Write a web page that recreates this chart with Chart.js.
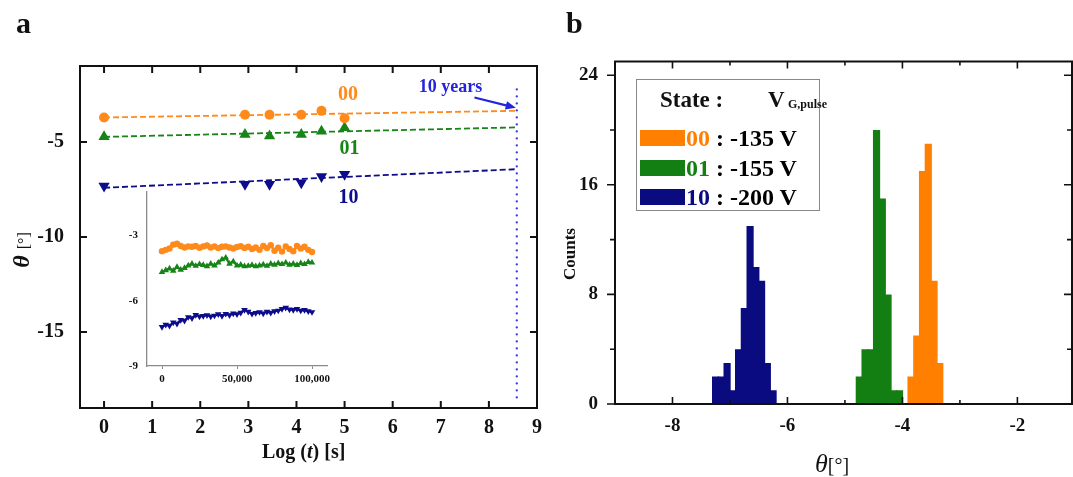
<!DOCTYPE html>
<html>
<head>
<meta charset="utf-8">
<script src="https://cdn.jsdelivr.net/npm/chart.js@4.4.1/dist/chart.umd.min.js"></script>
<style>
body { margin: 0; background: #fff; font-family: 'Liberation Serif', serif; }
#wrap { position: relative; width: 1073px; height: 477px; overflow: hidden; background: #fff; }
canvas { position: absolute; }
.t { position: absolute; font-weight: bold; white-space: nowrap; line-height: 1; color: #111; }
.rot { transform: translate(-50%, -50%) rotate(-90deg); }
.sw { position: absolute; left: 3px; width: 45px; height: 16px; }
.row { position: absolute; left: 49px; font-size: 24px; font-weight: bold; white-space: nowrap; line-height: 1; }
</style>
</head>
<body>
<div id="wrap">
  <canvas id="chartA" width="545" height="477" style="left:0;top:0;width:545px;height:477px"></canvas>
  <canvas id="inset" width="240" height="210" style="left:100px;top:180px;width:240px;height:210px"></canvas>
  <canvas id="chartB" width="528" height="477" style="left:545px;top:0;width:528px;height:477px"></canvas>

  <div class="t" style="left:16px;top:8px;font-size:30px">a</div>
  <div class="t" style="left:566px;top:8px;font-size:30px">b</div>

  <div class="t" style="left:262px;top:441px;font-size:20px">Log (<i>t</i>) [s]</div>
  <div class="t rot" style="left:21px;top:250px;font-size:24px"><i>θ</i> <span style="font-size:16px;font-weight:normal">[°]</span></div>

  <div class="t rot" style="left:569px;top:254px;font-size:17px">Counts</div>
  <div class="t" style="left:815px;top:451px;font-size:26px;font-weight:normal"><i>θ</i><span style="font-size:20px">[°]</span></div>

  <div id="legend" style="position:absolute;left:636px;top:79px;width:182px;height:130px;border:1px solid #888;background:#fff">
    <div class="t" style="left:23px;top:8px;font-size:23px">State :</div>
    <div class="t" style="left:131px;top:8px;font-size:23px">V</div>
    <div class="t" style="left:151px;top:18px;font-size:12px">G,pulse</div>
    <div class="sw" style="top:50px;background:#ff8000"></div>
    <div class="row" style="top:46px"><span style="color:#ff8000">00</span> : -135 V</div>
    <div class="sw" style="top:80px;background:#137f13"></div>
    <div class="row" style="top:76px"><span style="color:#137f13">01</span> : -155 V</div>
    <div class="sw" style="top:109px;background:#0b0b80"></div>
    <div class="row" style="top:105px"><span style="color:#0b0b80">10</span> : -200 V</div>
  </div>
</div>

<script>
// ---- panel a: retention vs log time ----
const logT = [0, 2.93, 3.44, 4.1, 4.52, 5.0];
const theta00 = [-3.71, -3.57, -3.57, -3.57, -3.36, -3.75];
const theta01 = [-4.73, -4.61, -4.68, -4.61, -4.43, -4.25];
const theta10 = [-7.32, -7.23, -7.23, -7.14, -6.82, -6.70];

const fitX = [0, 8.58];
const fit00 = [-3.71, -3.36];
const fit01 = [-4.73, -4.23];
const fit10 = [-7.41, -6.43];

const tenYears = 8.58;
const tenYearsSpan = [-2.23, -18.6];

const xTicksA = [0, 1, 2, 3, 4, 5, 6, 7, 8, 9];
const yTicksA = [-15, -10, -5];

// ---- inset: linear time ----
const insetT = [0, 2500, 5000, 7500, 10000, 12500, 15000, 17500, 20000, 22500,
  25000, 27500, 30000, 32500, 35000, 37500, 40000, 42500, 45000, 47500,
  50000, 52500, 55000, 57500, 60000, 62500, 65000, 67500, 70000, 72500,
  75000, 77500, 80000, 82500, 85000, 87500, 90000, 92500, 95000, 97500, 100000];
const inset00 = [-3.72, -3.66, -3.6, -3.42, -3.38, -3.48, -3.55, -3.5, -3.52, -3.48,
  -3.56, -3.5, -3.46, -3.55, -3.5, -3.58, -3.52, -3.5, -3.55, -3.6,
  -3.53, -3.49, -3.57, -3.52, -3.62, -3.55, -3.66, -3.48, -3.58, -3.45,
  -3.7, -3.56, -3.74, -3.5, -3.62, -3.72, -3.48, -3.6, -3.52, -3.66, -3.76];
const inset01 = [-4.68, -4.6, -4.52, -4.62, -4.45, -4.58, -4.5, -4.38, -4.3, -4.4,
  -4.32, -4.36, -4.42, -4.3, -4.38, -4.25, -4.1, -4.02, -4.3, -4.2,
  -4.38, -4.35, -4.42, -4.4, -4.36, -4.42, -4.38, -4.34, -4.4, -4.3,
  -4.35, -4.28, -4.32, -4.25, -4.35, -4.3, -4.36, -4.28, -4.32, -4.22, -4.25];
const inset10 = [-7.2, -7.1, -7.15, -7.0, -7.05, -6.88, -6.92, -6.75, -6.8, -6.65,
  -6.72, -6.7, -6.66, -6.72, -6.68, -6.62, -6.7, -6.6, -6.66, -6.58,
  -6.62, -6.55, -6.42, -6.5, -6.6, -6.56, -6.52, -6.58, -6.5, -6.55,
  -6.48, -6.45, -6.38, -6.32, -6.4, -6.42, -6.38, -6.45, -6.42, -6.48, -6.52];
const xTicksInset = [0, 50000, 100000];
const yTicksInset = [-9, -6, -3];

// ---- panel b: histograms ----
const bins00 = [-3.85, -3.75, -3.65, -3.55, -3.45, -3.35];
const counts00 = [2, 5, 17, 19, 9, 3];
const bins01 = [-4.75, -4.65, -4.55, -4.45, -4.35, -4.25, -4.15, -4.05];
const counts01 = [2, 4, 4, 20, 15, 8, 1, 1];
const bins10 = [-7.25, -7.15, -7.05, -6.95, -6.85, -6.75, -6.65, -6.55, -6.45, -6.35, -6.25];
const counts10 = [2, 2, 3, 1, 4, 7, 13, 10, 9, 3, 1];
const xTicksB = [-8, -7, -6, -5, -4, -3, -2];
const yTicksB = [0, 4, 8, 12, 16, 20, 24];

const ORANGE = '#ff8a1c', GREEN = '#178417', NAVY = '#0c0c8c';
const H_ORANGE = '#ff8000', H_GREEN = '#137f13', H_NAVY = '#0b0b80';
const BLUE = '#2424dc';
const SERIF = "'Liberation Serif', 'Times New Roman', serif";

Chart.defaults.font.family = SERIF;
Chart.defaults.color = '#111';

const pts = (xs, ys) => xs.map((x, i) => ({ x: x, y: ys[i] }));
const setTicks = vals => s => { s.ticks = vals.map(v => ({ value: v })); };

// box around the plot area plus tick marks drawn with the chart's own scales
const framePlugin = {
  id: 'frame',
  afterDraw(chart, args, o) {
    if (!o.box) return;
    const { ctx, chartArea: a, scales } = chart;
    const x = scales.x, y = scales.y;
    ctx.save();
    ctx.strokeStyle = '#111';
    ctx.lineWidth = o.lineWidth;
    ctx.strokeRect(a.left, a.top, a.right - a.left, a.bottom - a.top);
    ctx.lineWidth = o.tickWidth;
    ctx.beginPath();
    o.xTicks.forEach(t => {
      const px = x.getPixelForValue(t.v);
      if (px <= a.left + 1 || px >= a.right - 1) return;
      ctx.moveTo(px, a.bottom); ctx.lineTo(px, a.bottom + o.dir.bottom * t.len);
      ctx.moveTo(px, a.top); ctx.lineTo(px, a.top + o.dir.top * t.len);
    });
    o.yTicks.forEach(t => {
      const py = y.getPixelForValue(t.v);
      ctx.moveTo(a.left, py); ctx.lineTo(a.left + o.dir.left * t.len, py);
      ctx.moveTo(a.right, py); ctx.lineTo(a.right + o.dir.right * t.len, py);
    });
    ctx.stroke();
    ctx.restore();
  }
};

// text labels and arrow placed in data coordinates
const annotPlugin = {
  id: 'annot',
  afterDatasetsDraw(chart, args, o) {
    if (!o.texts) return;
    const { ctx, scales: { x, y } } = chart;
    ctx.save();
    ctx.textAlign = 'center';
    ctx.textBaseline = 'middle';
    o.texts.forEach(t => {
      ctx.font = t.font;
      ctx.fillStyle = t.color;
      ctx.fillText(t.text, x.getPixelForValue(t.x), y.getPixelForValue(t.y));
    });
    (o.arrows || []).forEach(ar => {
      const x0 = x.getPixelForValue(ar.from[0]), y0 = y.getPixelForValue(ar.from[1]);
      const x1 = x.getPixelForValue(ar.to[0]), y1 = y.getPixelForValue(ar.to[1]);
      const ang = Math.atan2(y1 - y0, x1 - x0);
      ctx.strokeStyle = ar.color; ctx.fillStyle = ar.color; ctx.lineWidth = 2.2;
      ctx.beginPath(); ctx.moveTo(x0, y0);
      ctx.lineTo(x1 - 7 * Math.cos(ang), y1 - 7 * Math.sin(ang)); ctx.stroke();
      ctx.beginPath();
      ctx.moveTo(x1, y1);
      ctx.lineTo(x1 - 11 * Math.cos(ang - 0.4), y1 - 11 * Math.sin(ang - 0.4));
      ctx.lineTo(x1 - 11 * Math.cos(ang + 0.4), y1 - 11 * Math.sin(ang + 0.4));
      ctx.closePath(); ctx.fill();
    });
    ctx.restore();
  }
};

Chart.register(framePlugin, annotPlugin);

const fitLine = (ys, color) => ({
  data: pts(fitX, ys), showLine: true, borderColor: color, borderWidth: 1.8,
  borderDash: [6, 3], pointRadius: 0, order: 2
});
const markers = (ys, color, style, rot, r) => ({
  data: pts(logT, ys), showLine: false, pointStyle: style, rotation: rot,
  pointRadius: r, backgroundColor: color, borderColor: color, borderWidth: 0, order: 1
});

new Chart(document.getElementById('chartA'), {
  type: 'scatter',
  data: {
    datasets: [
      fitLine(fit00, ORANGE), fitLine(fit01, GREEN), fitLine(fit10, NAVY),
      markers(theta00, ORANGE, 'circle', 0, 5),
      markers(theta01, GREEN, 'triangle', 0, 6.5),
      markers(theta10, NAVY, 'triangle', 180, 6.5),
      {
        data: pts([tenYears, tenYears], tenYearsSpan), showLine: true, borderColor: '#3a3ae6',
        borderWidth: 2.4, borderDash: [0, 7], borderCapStyle: 'round', pointRadius: 0
      }
    ]
  },
  options: {
    responsive: false, animation: false, devicePixelRatio: 1,
    layout: { padding: { left: 0, top: 66, right: 8, bottom: 0 } },
    plugins: {
      legend: { display: false }, tooltip: { enabled: false },
      frame: {
        box: true, lineWidth: 2, tickWidth: 2,
        dir: { bottom: -1, top: 1, left: 1, right: -1 },
        xTicks: xTicksA.map(v => ({ v: v, len: 7 })),
        yTicks: yTicksA.map(v => ({ v: v, len: 7 }))
      },
      annot: {
        texts: [
          { text: '00', x: 5.07, y: -2.54, color: ORANGE, font: 'bold 20px ' + SERIF },
          { text: '01', x: 5.1, y: -5.36, color: GREEN, font: 'bold 20px ' + SERIF },
          { text: '10', x: 5.08, y: -7.95, color: NAVY, font: 'bold 20px ' + SERIF },
          { text: '10 years', x: 7.2, y: -2.14, color: BLUE, font: 'bold 18px ' + SERIF }
        ],
        arrows: [{ from: [7.7, -2.66], to: [8.56, -3.2], color: BLUE }]
      }
    },
    scales: {
      x: {
        type: 'linear', min: -0.5, max: 9,
        afterBuildTicks: setTicks(xTicksA),
        afterFit: s => { s.height = 69; },
        grid: { display: false }, border: { display: false },
        ticks: { padding: 0, font: { size: 20, weight: 'bold' }, color: '#111' }
      },
      y: {
        type: 'linear', min: -19, max: -1,
        afterBuildTicks: setTicks(yTicksA),
        afterFit: s => { s.width = 80; },
        grid: { display: false }, border: { display: false },
        ticks: { padding: 8, font: { size: 20, weight: 'bold' }, color: '#111' }
      }
    }
  }
});

const insetSet = (ys, color, style, rot, r) => ({
  data: pts(insetT, ys), showLine: true, borderColor: color, borderWidth: 2.2,
  backgroundColor: color, pointStyle: style, rotation: rot, pointRadius: r, pointBorderWidth: 0
});

new Chart(document.getElementById('inset'), {
  type: 'scatter',
  data: {
    datasets: [
      insetSet(inset00, ORANGE, 'circle', 0, 3.2),
      insetSet(inset01, GREEN, 'triangle', 0, 3.8),
      insetSet(inset10, NAVY, 'triangle', 180, 3.8)
    ]
  },
  options: {
    responsive: false, animation: false, devicePixelRatio: 1,
    layout: { padding: { left: 0, top: 12, right: 13, bottom: 0 } },
    plugins: { legend: { display: false }, tooltip: { enabled: false } },
    scales: {
      x: {
        type: 'linear', min: -10000, max: 110000,
        afterBuildTicks: setTicks(xTicksInset),
        afterFit: s => { s.height = 24; },
        grid: { display: true, drawOnChartArea: false, tickLength: 3, color: '#888' },
        border: { display: true, color: '#8a8a8a', width: 1.3 },
        ticks: { padding: 4, font: { size: 11, weight: 'bold' }, color: '#111',
          callback: v => v.toLocaleString('en-US') }
      },
      y: {
        type: 'linear', min: -9, max: -1,
        afterBuildTicks: setTicks(yTicksInset),
        afterFit: s => { s.width = 47; },
        grid: { display: false },
        border: { display: true, color: '#8a8a8a', width: 1.3 },
        ticks: { padding: 1, font: { size: 11, weight: 'bold' }, color: '#111' }
      }
    }
  }
});

const histSet = (bins, counts, color) => ({
  data: pts(bins, counts), backgroundColor: color, borderWidth: 0,
  barPercentage: 1.25, categoryPercentage: 1, grouped: false
});

new Chart(document.getElementById('chartB'), {
  type: 'bar',
  data: {
    datasets: [
      histSet(bins10, counts10, H_NAVY),
      histSet(bins01, counts01, H_GREEN),
      histSet(bins00, counts00, H_ORANGE)
    ]
  },
  options: {
    responsive: false, animation: false, devicePixelRatio: 1,
    layout: { padding: { left: 0, top: 61.5, right: 1, bottom: 0 } },
    plugins: {
      legend: { display: false }, tooltip: { enabled: false },
      frame: {
        box: true, lineWidth: 2, tickWidth: 1.6,
        dir: { bottom: -1, top: 1, left: -1, right: -1 },
        xTicks: xTicksB.map(v => ({ v: v, len: v % 2 === 0 ? 7 : 4 })),
        yTicks: yTicksB.map(v => ({ v: v, len: v % 8 === 0 ? 8 : 5 }))
      }
    },
    scales: {
      x: {
        type: 'linear', min: -9, max: -1.05, offset: false,
        afterBuildTicks: setTicks(xTicksB),
        afterFit: s => { s.height = 73; },
        grid: { display: false, offset: false }, border: { display: false },
        ticks: { padding: 3, font: { size: 19, weight: 'bold' }, color: '#111',
          callback: v => (v % 2 === 0 ? v : '') }
      },
      y: {
        type: 'linear', min: 0, max: 25,
        afterBuildTicks: setTicks(yTicksB),
        afterFit: s => { s.width = 70; },
        grid: { display: false }, border: { display: false },
        ticks: { padding: 9, font: { size: 19, weight: 'bold' }, color: '#111',
          callback: v => (v % 8 === 0 ? v : '') }
      }
    }
  }
});
</script>
</body>
</html>
